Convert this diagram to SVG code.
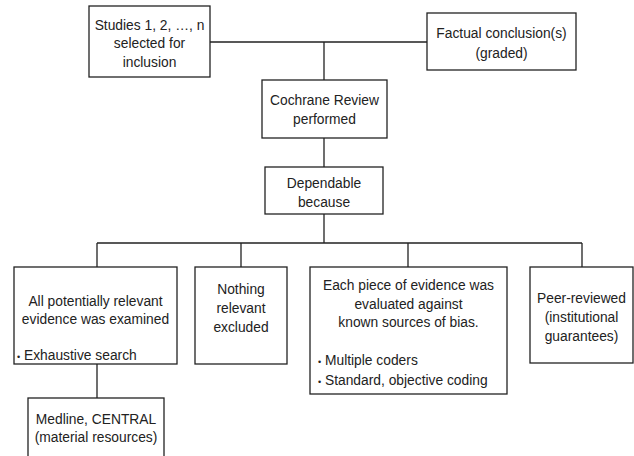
<svg xmlns="http://www.w3.org/2000/svg" width="634" height="456" viewBox="0 0 634 456">
<style>
.box{fill:#fff;stroke:#222;stroke-width:1.3}
.c{fill:none;stroke:#222;stroke-width:1.3}
text{font-family:"Liberation Sans",Arial,sans-serif;font-size:13.8px;fill:#222}
.m{text-anchor:middle}
.b{font-size:9px}
</style>
<rect width="634" height="456" fill="#fff"/>
<g id="connectors">
<path class="c" d="M210,42H427M324,42V80M324,138V167M324,214V243M97,243H582M97,243V267M241,243V267M408,243V267M582,243V267M97,364V398"/>
</g>
<g id="studies">
<rect class="box" x="89" y="6" width="121" height="71"/>
<text class="m" x="149.5" y="30">Studies 1, 2, …, n</text>
<text class="m" x="149.5" y="48">selected for</text>
<text class="m" x="149.5" y="67">inclusion</text>
</g>
<g id="factual">
<rect class="box" x="427" y="13" width="149" height="57"/>
<text class="m" x="501.5" y="38">Factual conclusion(s)</text>
<text class="m" x="501.5" y="58">(graded)</text>
</g>
<g id="cochrane">
<rect class="box" x="262" y="80" width="125" height="58"/>
<text class="m" x="324.5" y="105">Cochrane Review</text>
<text class="m" x="324.5" y="124">performed</text>
</g>
<g id="dependable">
<rect class="box" x="265" y="167" width="118" height="47"/>
<text class="m" x="324" y="188">Dependable</text>
<text class="m" x="324" y="207">because</text>
</g>
<g id="all-evidence">
<rect class="box" x="14" y="267" width="163" height="97"/>
<text class="m" x="95.5" y="306">All potentially relevant</text>
<text class="m" x="95.5" y="324">evidence was examined</text>
<text x="17" y="360"><tspan class="b">•</tspan> Exhaustive search</text>
</g>
<g id="nothing-excluded">
<rect class="box" x="195" y="267" width="92" height="97"/>
<text class="m" x="241" y="294">Nothing</text>
<text class="m" x="241" y="313">relevant</text>
<text class="m" x="241" y="332">excluded</text>
</g>
<g id="bias">
<rect class="box" x="310" y="267" width="197" height="127"/>
<text class="m" x="408.5" y="290">Each piece of evidence was</text>
<text class="m" x="408.5" y="309">evaluated against</text>
<text class="m" x="408.5" y="327">known sources of bias.</text>
<text x="318" y="365"><tspan class="b">•</tspan> Multiple coders</text>
<text x="318" y="385"><tspan class="b">•</tspan> Standard, objective coding</text>
</g>
<g id="peer-reviewed">
<rect class="box" x="530" y="267" width="103" height="96"/>
<text class="m" x="581.5" y="303">Peer-reviewed</text>
<text class="m" x="581.5" y="322">(institutional</text>
<text class="m" x="581.5" y="341">guarantees)</text>
</g>
<g id="medline">
<rect class="box" x="28" y="398" width="136" height="70"/>
<text class="m" x="96" y="424">Medline, CENTRAL</text>
<text class="m" x="96" y="442">(material resources)</text>
</g>
</svg>
